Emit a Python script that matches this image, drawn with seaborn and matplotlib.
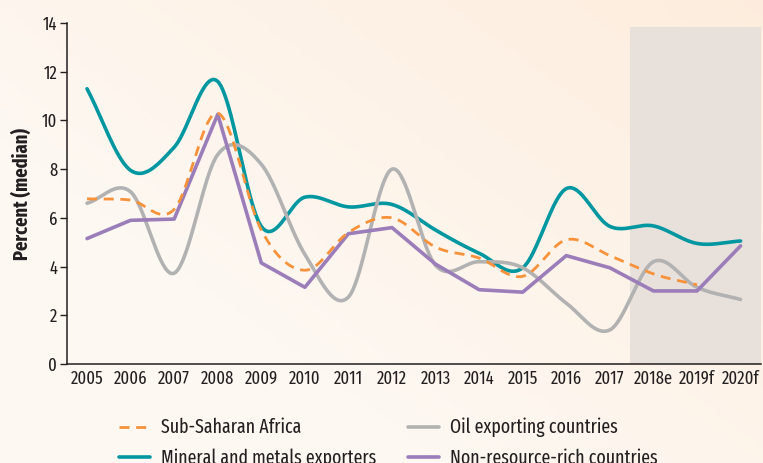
import numpy as np
import pandas as pd
import matplotlib
matplotlib.use("Agg")
import matplotlib.pyplot as plt
import seaborn as sns

years = ["2005", "2006", "2007", "2008", "2009", "2010", "2011", "2012", "2013",
         "2014", "2015", "2016", "2017", "2018e", "2019f", "2020f"]
ssa = [6.78, 6.73, 6.35, 10.3, 5.5, 3.85, 5.4, 6.0, 4.8, 4.35, 3.6, 5.1, 4.45, 3.7, 3.25, np.nan]
mineral = [11.3, 7.95, 8.9, 11.6, 5.65, 6.85, 6.45, 6.55, 5.5, 4.55, 3.95, 7.2, 5.65, 5.67, 4.95, 5.05]
oil = [6.6, 7.07, 3.73, 8.6, 8.2, 4.5, 2.75, 8.0, 4.05, 4.2, 3.95, 2.5, 1.4, 4.2, 3.15, 2.65]
nonres = [5.15, 5.9, 5.95, 10.25, 4.15, 3.15, 5.35, 5.6, 4.1, 3.05, 2.95, 4.45, 3.95, 3.0, 3.0, 4.85]

labels = ["Sub-Saharan Africa", "Mineral and metals exporters",
          "Oil exporting countries", "Non-resource-rich countries"]
colors = ["#F7923A", "#0097A1", "#B2B2B2", "#9B7DB9"]


def cardinal_spline(x, y, n=40, s=1.0):
    x = np.asarray(x, float)
    y = np.asarray(y, float)
    k = len(x)
    m = np.zeros(k)
    for i in range(k):
        if i == 0:
            m[i] = (y[1] - y[0]) / (x[1] - x[0])
        elif i == k - 1:
            m[i] = (y[-1] - y[-2]) / (x[-1] - x[-2])
        else:
            m[i] = s * (y[i + 1] - y[i - 1]) / (x[i + 1] - x[i - 1])
    xs_all, ys_all = [], []
    for i in range(k - 1):
        h = x[i + 1] - x[i]
        t = np.linspace(0, 1, n, endpoint=(i == k - 2))
        h00 = 2 * t ** 3 - 3 * t ** 2 + 1
        h10 = t ** 3 - 2 * t ** 2 + t
        h01 = -2 * t ** 3 + 3 * t ** 2
        h11 = t ** 3 - t ** 2
        xs_all.append(x[i] + t * h)
        ys_all.append(h00 * y[i] + h10 * h * m[i] + h01 * y[i + 1] + h11 * h * m[i + 1])
    return np.concatenate(xs_all), np.concatenate(ys_all)


sns.set_theme(style="ticks")
plt.rcParams['font.family'] = ['Myriad Pro Condensed', 'Fira Sans Extra Condensed',
                               'Barlow Semi Condensed', 'PT Sans Narrow',
                               'Roboto Condensed', 'IBM Plex Sans Condensed', 'DejaVu Sans']

fig = plt.figure(figsize=(7.63, 4.63), dpi=100)
# background gradient
bg = fig.add_axes([0, 0, 1, 1], zorder=-10)
gx = np.linspace(0, 1, 200)
gy = np.linspace(0, 1, 120)
GX, GY = np.meshgrid(gx, gy)
t = np.clip(0.6 * GX + 0.5 * GY - 0.35, 0, 1)[::-1]
c0 = np.array([253, 248, 242]) / 255
c1 = np.array([253, 233, 214]) / 255
img = c0[None, None, :] * (1 - t[..., None]) + c1[None, None, :] * t[..., None]
bg.imshow(img, aspect="auto", extent=[0, 1, 0, 1], origin="upper")
bg.axis("off")

ax = fig.add_axes([0.0878, 0.2138, 0.9102, 0.7365])
ax.set_facecolor("none")
xpos = np.arange(len(years))

ax.axvspan(12.47, 15.47, ymin=0, ymax=13.85 / 14, color="#E8E1DB", zorder=0, lw=0)

series = [ssa, mineral, oil, nonres]
smooth = [True, True, True, False]
for vals, lab, col, sm in zip(series, labels, colors, smooth):
    v = np.asarray(vals, float)
    mask = ~np.isnan(v)
    xv = xpos[mask]
    yv = v[mask]
    if sm:
        xs, ys = cardinal_spline(xv, yv, s=1.05)
    else:
        xs, ys = xv, yv
    df = pd.DataFrame({"x": xs, "y": ys})
    if lab == "Sub-Saharan Africa":
        sns.lineplot(data=df, x="x", y="y", ax=ax, color=col, lw=2.0, label=lab,
                     zorder=3, sort=False)
        ax.lines[-1].set_dashes([3.6, 2.4])
    else:
        sns.lineplot(data=df, x="x", y="y", ax=ax, color=col, lw=2.6, label=lab,
                     zorder=2, sort=False)

ax.set_xlim(-0.46, 15.48)
ax.set_ylim(0, 14)
ax.set_yticks(np.arange(0, 15, 2))
ax.set_xticks(xpos)
ax.set_xticklabels(years)
ax.tick_params(axis="y", length=5, width=1, color="#231F20", labelsize=13,
               labelcolor="#231F20", pad=2)
ax.tick_params(axis="x", length=0, labelsize=13, labelcolor="#231F20", pad=4)
for s in ["top", "right"]:
    ax.spines[s].set_visible(False)
for s in ["left", "bottom"]:
    ax.spines[s].set_color("#231F20")
    ax.spines[s].set_linewidth(1.1)
ax.set_xlabel("")
ax.set_ylabel("Percent (median)", fontsize=14.5, fontweight="bold", color="#231F20",
              labelpad=7)

handles, labs = ax.get_legend_handles_labels()
leg = ax.legend(handles, labs, ncol=2, loc="upper left", bbox_to_anchor=(0.063, -0.135),
                frameon=False, fontsize=14, handlelength=1.6, handletextpad=0.6,
                columnspacing=1.6, labelspacing=0.55, borderaxespad=0)
for txt in leg.get_texts():
    txt.set_color("#231F20")

fig.savefig("out.png", dpi=100)
